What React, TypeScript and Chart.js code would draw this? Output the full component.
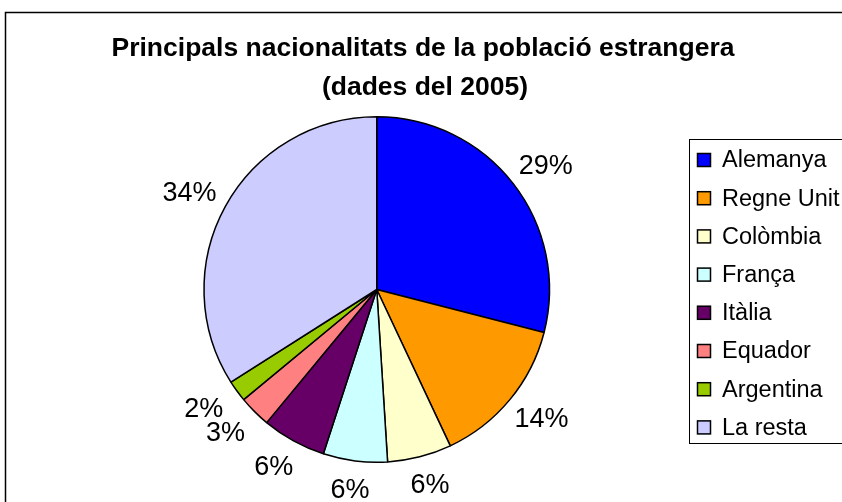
import React, { useEffect, useRef } from "react";
import { Chart, registerables } from "chart.js";

Chart.register(...registerables);

const titleLines = ["Principals nacionalitats de la població estrangera", "(dades del 2005)"];
const categories = ["Alemanya", "Regne Unit", "Colòmbia", "França", "Itàlia", "Equador", "Argentina", "La resta"];
const values = [29, 14, 6, 6, 6, 3, 2, 34];
const colors = ["#0000FF", "#FF9900", "#FFFFCC", "#CCFFFF", "#660066", "#FF8080", "#99CC00", "#CCCCFF"];

const FONT = "'Liberation Sans', Arial, sans-serif";

const decorPlugin = {
  id: "decor",
  afterDraw(chart: any) {
    const ctx = chart.ctx as CanvasRenderingContext2D;
    ctx.save();
    // outer frame
    ctx.strokeStyle = "#000";
    ctx.lineWidth = 1.5;
    ctx.strokeRect(5.5, 12.5, 900, 600);

    // title
    ctx.fillStyle = "#000";
    ctx.font = `bold 26.5px ${FONT}`;
    ctx.textAlign = "center";
    ctx.textBaseline = "alphabetic";
    ctx.fillText(titleLines[0], 423, 56);
    ctx.fillText(titleLines[1], 425, 95);

    // percentage labels
    const meta = chart.getDatasetMeta(0);
    const total = values.reduce((a, b) => a + b, 0);
    ctx.font = `27px ${FONT}`;
    ctx.textBaseline = "middle";
    meta.data.forEach((arc: any, i: number) => {
      const p = arc.getProps(["x", "y", "startAngle", "endAngle", "outerRadius"], true);
      const mid = (p.startAngle + p.endAngle) / 2;
      const txt = Math.round((values[i] / total) * 100) + "%";
      const c = Math.cos(mid);
      const s = Math.sin(mid);
      ctx.fillText(txt, p.x + c * (p.outerRadius + 41), p.y + s * (p.outerRadius + 29) + 1);
    });

    // legend
    ctx.lineWidth = 1;
    ctx.strokeStyle = "#000";
    ctx.strokeRect(689.5, 139.5, 300, 304);
    ctx.textAlign = "left";
    ctx.font = `23.5px ${FONT}`;
    categories.forEach((c, i) => {
      const cy = 160 + i * 38.2;
      ctx.fillStyle = colors[i];
      ctx.fillRect(697, cy - 7, 14, 14);
      ctx.lineWidth = 1.5;
      ctx.strokeRect(697.5, cy - 6.5, 13, 13);
      ctx.fillStyle = "#000";
      ctx.fillText(c, 722, cy + 1);
    });
    ctx.restore();
  },
};

export default function App() {
  const ref = useRef<HTMLCanvasElement>(null);
  useEffect(() => {
    if (!ref.current) return;
    const chart = new Chart(ref.current, {
      type: "pie",
      data: {
        labels: categories,
        datasets: [
          {
            data: values,
            backgroundColor: colors,
            borderColor: "#000",
            borderWidth: 1.5,
          },
        ],
      },
      options: {
        animation: false,
        responsive: false,
        layout: { padding: { left: 202.5, right: 291, top: 116, bottom: 39 } },
        plugins: {
          legend: { display: false },
          title: { display: false },
          tooltip: { enabled: false },
        },
      },
      plugins: [decorPlugin],
    });
    return () => chart.destroy();
  }, []);
  return (
    <div style={{ position: "fixed", left: 0, top: 0, width: 842, height: 502, background: "#fff" }}>
      <canvas ref={ref} width={842} height={502} style={{ width: 842, height: 502 }} />
    </div>
  );
}
